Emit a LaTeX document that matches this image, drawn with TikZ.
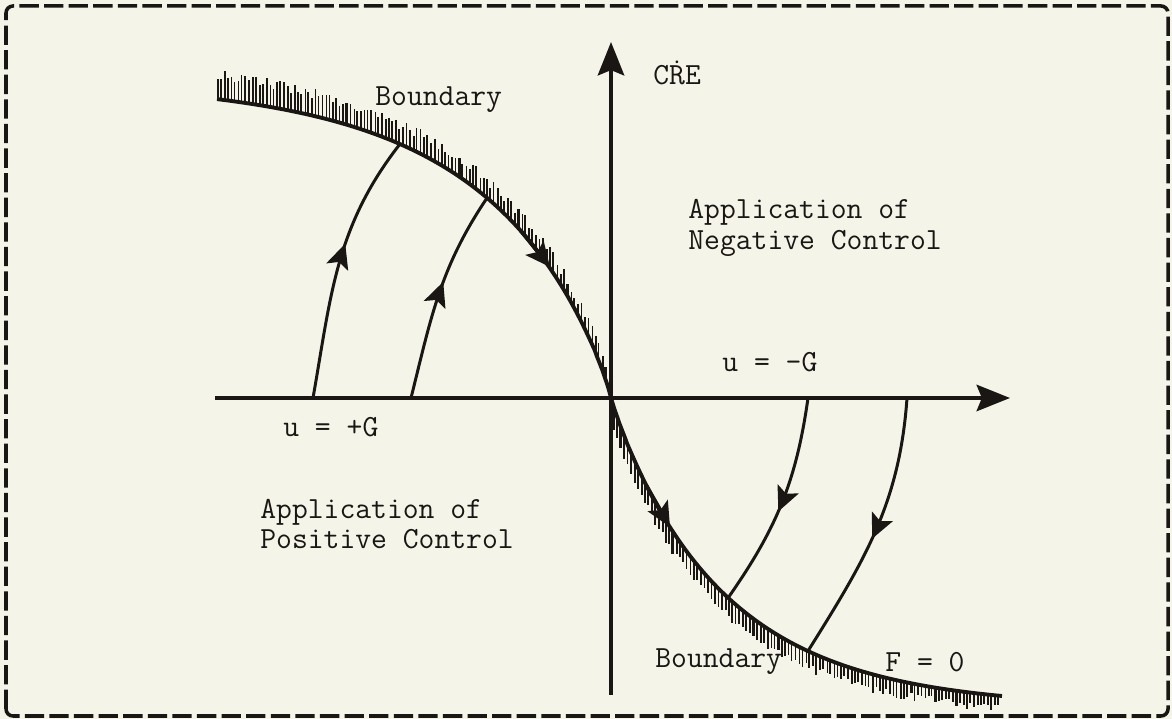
\documentclass[tikz,border=0pt]{standalone}
\usepackage{tikz}
\usetikzlibrary{arrows.meta, decorations.markings}
\definecolor{paper}{RGB}{245,244,233}
\definecolor{ink}{RGB}{25,22,20}

\begin{document}
\begin{tikzpicture}[
  x=0.02cm, y=0.02cm,
  lbl/.style={anchor=west, inner sep=0pt, align=left, text=ink,
              font=\ttfamily\fontsize{17.5}{17.5}\selectfont},
  frame/.style={draw=ink, line width=2pt, dash pattern=on 11pt off 3pt, rounded corners=4pt},
  axis/.style={draw=ink, line width=2.2pt, -{Stealth[length=19pt, width=15pt, inset=3pt]}},
  bound/.style={draw=ink, line width=2.2pt},
  traj/.style={draw=ink, line width=1.7pt},
  tip/.style={draw=ink, line width=2.2pt, -{Stealth[length=14pt, width=13pt, inset=3pt]}},
  midarrow/.style={postaction={decorate, decoration={markings,
      mark=at position #1 with {\arrow[ink]{Stealth[length=14pt, width=13pt, inset=3pt]}}}}}
]
  \pgfmathsetseed{7}
  \fill[paper] (0,0) rectangle (1172,719);
  \useasboundingbox (0,0) rectangle (1172,719);
  \draw[frame] (6,3) rectangle (1168,713);
  % 坐标轴
  \coordinate (O) at (611,321);
  \coordinate (xl) at (215,321);
  \coordinate (xr) at (1010,321);
  \coordinate (yb) at (611,24);
  \coordinate (yt) at (611,677);
  \draw[axis] (xl) -- (xr);
  \draw[axis] (yb) -- (yt);
  % 边界 F = 0 的阴影
  \foreach \i in {0,...,112} {
    \pgfmathsetmacro{\tu}{-394+3.5*\i+rnd}
    \pgfmathsetmacro{\tv}{318*(1-exp(-((abs(\tu)/125)^0.9)))}
    \pgfmathsetmacro{\tl}{9+10*abs(\tu)/394+11*rnd}
    \pgfmathsetmacro{\tw}{0.6+0.8*rnd}
    \draw[ink, line width=\tw pt] ({611+\tu},{321+\tv}) -- ++(0,\tl);
  }
  \foreach \i in {0,...,110} {
    \pgfmathsetmacro{\tu}{2+3.5*\i+rnd}
    \pgfmathsetmacro{\tv}{310*(1-exp(-((\tu/113)^0.95)))}
    \pgfmathsetmacro{\tl}{7+9*(1-\tu/391)+9*rnd}
    \pgfmathsetmacro{\tw}{0.6+0.8*rnd}
    \draw[ink, line width=\tw pt] ({611+\tu},{321-\tv}) -- ++(0,-\tl);
  }
  % 边界曲线
  \draw[bound] plot[domain=-394:-0.3, samples=200]
      ({611+\x},{321+318*(1-exp(-((abs(\x)/125)^0.9)))}) -- (O)
    -- plot[domain=0.3:391, samples=200]
      ({611+\x},{321-310*(1-exp(-((\x/113)^0.95)))});
  \coordinate (c1) at (521,488);
  \coordinate (c2) at (550,452);
  \coordinate (c3) at (646,234);
  \coordinate (c4) at (670,192);
  \draw[tip] (c1) -- (c2);
  \draw[tip] (c3) -- (c4);
  % 轨迹
  \coordinate (a1) at (313,321);
  \coordinate (a2) at (411,321);
  \coordinate (a3) at (808,321);
  \coordinate (a4) at (907,321);
  \coordinate (b1) at (400,575);
  \coordinate (b2) at (487,521);
  \coordinate (b3) at (728,121);
  \coordinate (b4) at (808,68);
  \draw[traj, midarrow=0.58] (a1) to[out=80, in=232] (b1);
  \draw[traj, midarrow=0.56] (a2) to[out=76, in=236] (b2);
  \draw[traj, midarrow=0.54] (a3) to[out=262, in=55] (b3);
  \draw[traj, midarrow=0.53] (a4) to[out=266, in=58] (b4);
  % 标注
  \node[lbl] (cre) at (653,646) {C\.{R}E};
  \node[lbl] (bdu) at (375,619) {Boundary};
  \node[lbl] (neg) at (688,491) {Application of\\Negative Control};
  \node[lbl] (um) at (722,357) {u = -G};
  \node[lbl] (up) at (283,292) {u = +G};
  \node[lbl] (pos) at (260,195) {Application of\\Positive Control};
  \node[lbl] (bdl) at (655,57) {Boundary};
  \node[lbl] (f0) at (885,57) {F = 0};
\end{tikzpicture}
\end{document}
